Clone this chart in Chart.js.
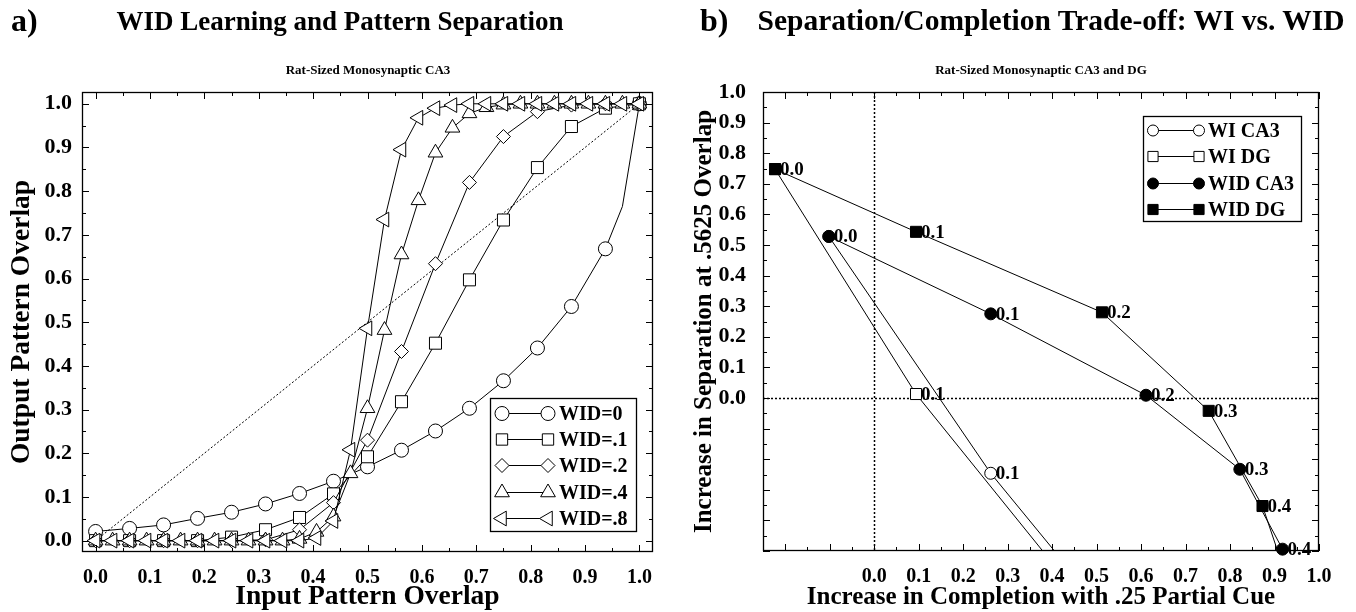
<!DOCTYPE html>
<html><head><meta charset="utf-8">
<script src="https://cdn.jsdelivr.net/npm/chart.js@4.4.0/dist/chart.umd.min.js"></script>
<style>
html,body{margin:0;padding:0;background:#fff;width:1356px;height:612px;overflow:hidden}
.wrap{position:absolute;top:0;width:678px;height:612px}
#wa{left:0}#wb{left:678px}
.ttl{position:absolute;font-family:"Liberation Serif","Times New Roman",serif;font-weight:bold;color:#000;white-space:nowrap;line-height:1.2}
</style></head><body>
<div class="wrap" id="wa"><canvas id="ca" width="678" height="612"></canvas></div>
<div class="wrap" id="wb"><canvas id="cb" width="678" height="612"></canvas></div>
<div class="ttl" style="left:11px;top:1px;font-size:32px">a)</div>
<div class="ttl" style="left:340px;top:5px;font-size:27px;transform:translateX(-50%)">WID Learning and Pattern Separation</div>
<div class="ttl" style="left:368px;top:62px;font-size:13px;transform:translateX(-50%)">Rat-Sized Monosynaptic CA3</div>
<div class="ttl" style="left:700px;top:1px;font-size:32px">b)</div>
<div class="ttl" style="left:1051px;top:3px;font-size:29.5px;transform:translateX(-50%)">Separation/Completion Trade-off: WI vs. WID</div>
<div class="ttl" style="left:1041px;top:62px;font-size:13px;transform:translateX(-50%)">Rat-Sized Monosynaptic CA3 and DG</div>
<script>
const FONT = '"Liberation Serif","Times New Roman",serif';

// ---------- Panel a data ----------
const inputOverlap16 = [0, 0.0625, 0.125, 0.1875, 0.25, 0.3125, 0.375, 0.4375, 0.5, 0.5625, 0.625, 0.6875, 0.75, 0.8125, 0.875, 0.9375, 1.0];
const inputOverlap32 = [0, 0.03125, 0.0625, 0.09375, 0.125, 0.15625, 0.1875, 0.21875, 0.25, 0.28125, 0.3125, 0.34375, 0.375, 0.40625, 0.4375, 0.46875, 0.5, 0.53125, 0.5625, 0.59375, 0.625, 0.65625, 0.6875, 0.71875, 0.75, 0.78125, 0.8125, 0.84375, 0.875, 0.90625, 0.9375, 0.96875, 1.0];
const wid0Input  = [0, 0.0625, 0.125, 0.1875, 0.25, 0.3125, 0.375, 0.4375, 0.5, 0.5625, 0.625, 0.6875, 0.75, 0.8125, 0.875, 0.9375, 0.96875, 1.0];
const wid0Output = [0.021, 0.028, 0.036, 0.051, 0.065, 0.084, 0.108, 0.136, 0.169, 0.207, 0.251, 0.303, 0.366, 0.441, 0.536, 0.668, 0.765, 1.0];
const wid1Output = [0, 0, 0, 0, 0.008, 0.025, 0.053, 0.107, 0.192, 0.318, 0.452, 0.597, 0.734, 0.854, 0.948, 0.99, 1.0];
const wid2Output = [0, 0, 0, 0, 0, 0.002, 0.025, 0.087, 0.23, 0.433, 0.634, 0.82, 0.925, 0.982, 0.997, 1.0, 1.0];
const wid4Output = [0, 0, 0, 0, 0, 0, 0, 0, 0, 0, 0, 0, 0.004, 0.02, 0.055, 0.154, 0.303, 0.482, 0.655, 0.779, 0.888, 0.945, 0.978, 0.992, 0.998, 1, 1, 1, 1, 1, 1, 1, 1];
const wid8Output = [0, 0, 0, 0, 0, 0, 0, 0, 0, 0, 0, 0, 0, 0.006, 0.045, 0.208, 0.486, 0.735, 0.895, 0.968, 0.99, 0.997, 1, 1, 1, 1, 1, 1, 1, 1, 1, 1, 1];
const identityX = [0, 1];
const identityY = [0, 1];
const seriesNamesA = ['WID=0', 'WID=.1', 'WID=.2', 'WID=.4', 'WID=.8'];
const tickValuesA = [0, 0.1, 0.2, 0.3, 0.4, 0.5, 0.6, 0.7, 0.8, 0.9, 1.0];
const tickLabelsA = ['0.0', '0.1', '0.2', '0.3', '0.4', '0.5', '0.6', '0.7', '0.8', '0.9', '1.0'];

// ---------- Panel b data ----------
const seriesNamesB = ['WI CA3', 'WI DG', 'WID CA3', 'WID DG'];
const wiCA3Completion  = [-0.102, 0.262, 0.45];
const wiCA3Separation  = [0.528, -0.246, -0.579];
const wiDGCompletion   = [-0.223, 0.094, 0.43];
const wiDGSeparation   = [0.748, 0.013, -0.592];
const widCA3Completion = [-0.102, 0.262, 0.611, 0.822, 0.918];
const widCA3Separation = [0.528, 0.275, 0.009, -0.233, -0.494];
const widDGCompletion  = [-0.223, 0.094, 0.512, 0.752, 0.873, 0.93];
const widDGSeparation  = [0.748, 0.543, 0.28, -0.042, -0.353, -0.599];
const widLevels = ['0.0', '0.1', '0.2', '0.3', '0.4', '0.5'];
const tickValuesB = [0, 0.1, 0.2, 0.3, 0.4, 0.5, 0.6, 0.7, 0.8, 0.9, 1.0];
const tickLabelsB = ['0.0', '0.1', '0.2', '0.3', '0.4', '0.5', '0.6', '0.7', '0.8', '0.9', '1.0'];

const pts = (xs, ys) => xs.map((x, i) => ({x, y: ys[i]}));

// ---------- plugins ----------
const frameTicks = {
  id: 'frameTicks',
  afterDatasetsDraw(chart, args, o) {
    const {ctx, chartArea: a, scales: {x, y}} = chart;
    ctx.save();
    ctx.strokeStyle = '#000';
    ctx.lineWidth = 1;
    ctx.beginPath();
    const isMajor = v => Math.abs(v * 10 - Math.round(v * 10)) < 1e-6;
    const step = 0.05;
    for (let k = Math.ceil(x.min / step - 1e-9); k * step <= x.max + 1e-9; k++) {
      const v = k * step, px = Math.round(x.getPixelForValue(v)) + 0.5, L = isMajor(v) ? 7 : 4;
      ctx.moveTo(px, a.bottom); ctx.lineTo(px, a.bottom - L);
      ctx.moveTo(px, a.top); ctx.lineTo(px, a.top + L);
    }
    for (let k = Math.ceil(y.min / step - 1e-9); k * step <= y.max + 1e-9; k++) {
      const v = k * step, py = Math.round(y.getPixelForValue(v)) + 0.5, L = isMajor(v) ? 7 : 4;
      ctx.moveTo(a.left, py); ctx.lineTo(a.left + L, py);
      ctx.moveTo(a.right, py); ctx.lineTo(a.right - L, py);
    }
    ctx.stroke();
    ctx.lineWidth = 1.3;
    ctx.strokeRect(Math.round(a.left) + 0.5, Math.round(a.top) + 0.5, Math.round(a.right - a.left) - 1, Math.round(a.bottom - a.top) - 1);
    ctx.restore();
  }
};

const zeroLines = {
  id: 'zeroLines',
  beforeDatasetsDraw(chart, args, o) {
    if (!o.display) return;
    const {ctx, chartArea: a, scales: {x, y}} = chart;
    ctx.save();
    ctx.strokeStyle = '#000';
    ctx.lineWidth = 1.5;
    ctx.setLineDash([2, 2]);
    const px = Math.round(x.getPixelForValue(0)) + 0.5;
    const py = Math.round(y.getPixelForValue(0)) + 0.5;
    ctx.beginPath();
    ctx.moveTo(px, a.top); ctx.lineTo(px, a.bottom);
    ctx.moveTo(a.left, py); ctx.lineTo(a.right, py);
    ctx.stroke();
    ctx.restore();
  }
};

const pointLabels = {
  id: 'pointLabels',
  afterDatasetsDraw(chart, args, o) {
    if (!o.display) return;
    const {ctx, chartArea: a} = chart;
    ctx.save();
    ctx.fillStyle = '#000';
    ctx.font = 'bold 19px ' + FONT;
    ctx.textBaseline = 'middle';
    ctx.textAlign = 'left';
    chart.data.datasets.forEach((ds, di) => {
      if (!ds.levelLabels) return;
      const meta = chart.getDatasetMeta(di);
      meta.data.forEach((el, i) => {
        if (i < (ds.labelFrom || 0)) return;
        if (el.x < a.left - 1 || el.x > a.right + 1 || el.y < a.top - 1 || el.y > a.bottom + 1) return;
        ctx.fillText(ds.levelLabels[i], el.x + 5, el.y + 1);
      });
    });
    ctx.restore();
  }
};

const boxLegend = {
  id: 'boxLegend',
  afterDraw(chart, args, o) {
    if (!o.display) return;
    const ctx = chart.ctx;
    ctx.save();
    ctx.fillStyle = '#fff';
    ctx.fillRect(o.x, o.y, o.w, o.h);
    ctx.strokeStyle = '#000';
    ctx.lineWidth = 1.3;
    ctx.strokeRect(o.x + 0.5, o.y + 0.5, o.w, o.h);
    o.items.forEach((di, i) => {
      const ds = chart.data.datasets[di];
      const cy = Math.round(o.y + o.first + i * o.rowH) + 0.5;
      ctx.beginPath();
      ctx.strokeStyle = '#000';
      ctx.lineWidth = 1;
      ctx.moveTo(o.m1, cy); ctx.lineTo(o.m2, cy);
      ctx.stroke();
      [o.m1, o.m2].forEach(mx => {
        ctx.fillStyle = ds.pointBackgroundColor;
        ctx.strokeStyle = '#000';
        ctx.lineWidth = 1;
        Chart.helpers.drawPoint(ctx, {pointStyle: ds.pointStyle, rotation: ds.pointRotation || 0, radius: ds.legendRadius, borderWidth: 1}, mx, cy);
      });
      ctx.fillStyle = '#000';
      ctx.font = 'bold 20px ' + FONT;
      ctx.textBaseline = 'middle';
      ctx.textAlign = 'left';
      ctx.fillText(ds.label, o.tx, cy + 1);
    });
    ctx.restore();
  }
};

Chart.register(frameTicks, zeroLines, pointLabels, boxLegend);

const tickFontX = {family: FONT, size: 20, weight: 'bold'};
const tickFontY = {family: FONT, size: 22, weight: 'bold'};
const titleFontA = {family: FONT, size: 27.5, weight: 'bold'};
const titleFontB = {family: FONT, size: 25, weight: 'bold'};

function lineDs(label, data, style, rot, radius, legendRadius, fill, order, extra) {
  return Object.assign({
    label, data, showLine: true,
    borderColor: '#000', borderWidth: 1,
    pointStyle: style, pointRotation: rot, pointRadius: radius, legendRadius,
    pointBackgroundColor: fill, pointBorderColor: '#000', pointBorderWidth: 1,
    order, tension: 0
  }, extra || {});
}

// ---------- Chart a ----------
new Chart(document.getElementById('ca'), {
  type: 'scatter',
  data: {
    datasets: [
      lineDs(seriesNamesA[0], pts(wid0Input, wid0Output), 'circle', 0,
        c => (Math.abs(c.raw.x * 16 - Math.round(c.raw.x * 16)) < 1e-9 ? 7 : 0), 7, '#fff', 5),
      lineDs(seriesNamesA[1], pts(inputOverlap16, wid1Output), 'rect', 0, 8.5, 8, '#fff', 4),
      lineDs(seriesNamesA[2], pts(inputOverlap16, wid2Output), 'rectRot', 0, 7, 7, '#fff', 3),
      lineDs(seriesNamesA[3], pts(inputOverlap32, wid4Output), 'triangle', 0, 8.5, 8.5, '#fff', 2),
      lineDs(seriesNamesA[4], pts(inputOverlap32, wid8Output), 'triangle', 270, 8.5, 8.5, '#fff', 1),
      {label: 'identity', data: pts(identityX, identityY), showLine: true, borderColor: '#000', borderWidth: 1,
       borderDash: [2, 2], pointRadius: 0, order: 6}
    ]
  },
  options: {
    responsive: false, animation: false, events: [],
    layout: {padding: {left: 0, right: 25, top: 92, bottom: 0}},
    plugins: {
      legend: {display: false}, tooltip: {enabled: false},
      zeroLines: {display: false}, pointLabels: {display: false},
      boxLegend: {display: true, x: 490, y: 398, w: 146, h: 133, first: 15, rowH: 26.2, m1: 502, m2: 548, tx: 559, items: [0, 1, 2, 3, 4]}
    },
    scales: {
      x: {
        type: 'linear', min: -0.025, max: 1.025,
        afterBuildTicks: s => { s.ticks = tickValuesA.map(v => ({value: v})); },
        afterFit: s => { s.height = 60; },
        grid: {display: false}, border: {display: false},
        ticks: {callback: (v, i) => tickLabelsA[i], font: tickFontX, color: '#000', padding: 6, maxRotation: 0, autoSkip: false},
        title: {display: true, text: 'Input Pattern Overlap', font: titleFontA, color: '#000', padding: {top: 0, bottom: -1}}
      },
      y: {
        type: 'linear', min: -0.026, max: 1.027,
        afterBuildTicks: s => { s.ticks = tickValuesA.map(v => ({value: v})); },
        afterFit: s => { s.width = 82; },
        grid: {display: false}, border: {display: false},
        ticks: {callback: (v, i) => tickLabelsA[i], font: tickFontY, color: '#000', padding: 2, autoSkip: false},
        title: {display: true, text: 'Output Pattern Overlap', font: titleFontA, color: '#000', padding: {top: 5.5, bottom: 0}}
      }
    }
  }
});

// ---------- Chart b ----------
new Chart(document.getElementById('cb'), {
  type: 'scatter',
  data: {
    datasets: [
      lineDs(seriesNamesB[0], pts(wiCA3Completion, wiCA3Separation), 'circle', 0, 6, 5.5, '#fff', 4, {clip: 0, levelLabels: widLevels, labelFrom: 1}),
      lineDs(seriesNamesB[1], pts(wiDGCompletion, wiDGSeparation), 'rect', 0, 7.8, 7.2, '#fff', 3, {clip: 0, levelLabels: widLevels, labelFrom: 1}),
      lineDs(seriesNamesB[2], pts(widCA3Completion, widCA3Separation), 'circle', 0, 6, 5.5, '#000', 2, {clip: false, levelLabels: widLevels}),
      lineDs(seriesNamesB[3], pts(widDGCompletion, widDGSeparation), 'rect', 0, 7.8, 7.2, '#000', 1, {clip: 0, levelLabels: widLevels})
    ]
  },
  options: {
    responsive: false, animation: false, events: [],
    layout: {padding: {left: 0, right: 37, top: 92, bottom: 0}},
    plugins: {
      legend: {display: false}, tooltip: {enabled: false},
      zeroLines: {display: true}, pointLabels: {display: true},
      boxLegend: {display: true, x: 465, y: 116, w: 158, h: 105, first: 13.5, rowH: 26.6, m1: 475, m2: 521, tx: 530, items: [0, 1, 2, 3]}
    },
    scales: {
      x: {
        type: 'linear', min: -0.25, max: 1.0,
        afterBuildTicks: s => { s.ticks = tickValuesB.map(v => ({value: v})); },
        afterFit: s => { s.height = 61; },
        grid: {display: false}, border: {display: false},
        ticks: {callback: (v, i) => tickLabelsB[i], font: tickFontX, color: '#000', padding: 6, maxRotation: 0, autoSkip: false},
        title: {display: true, text: 'Increase in Completion with .25 Partial Cue', font: titleFontB, color: '#000', padding: {top: 0, bottom: -1}}
      },
      y: {
        type: 'linear', min: -0.5, max: 1.0,
        afterBuildTicks: s => { s.ticks = tickValuesB.map(v => ({value: v})); },
        afterFit: s => { s.width = 85; },
        grid: {display: false}, border: {display: false},
        ticks: {callback: (v, i) => tickLabelsB[i], font: tickFontY, color: '#000', padding: 9, autoSkip: false},
        title: {display: true, text: 'Increase in Separation at .5625 Overlap', font: titleFontB, color: '#000', padding: {top: 12, bottom: 0}}
      }
    }
  }
});
</script>
</body></html>
